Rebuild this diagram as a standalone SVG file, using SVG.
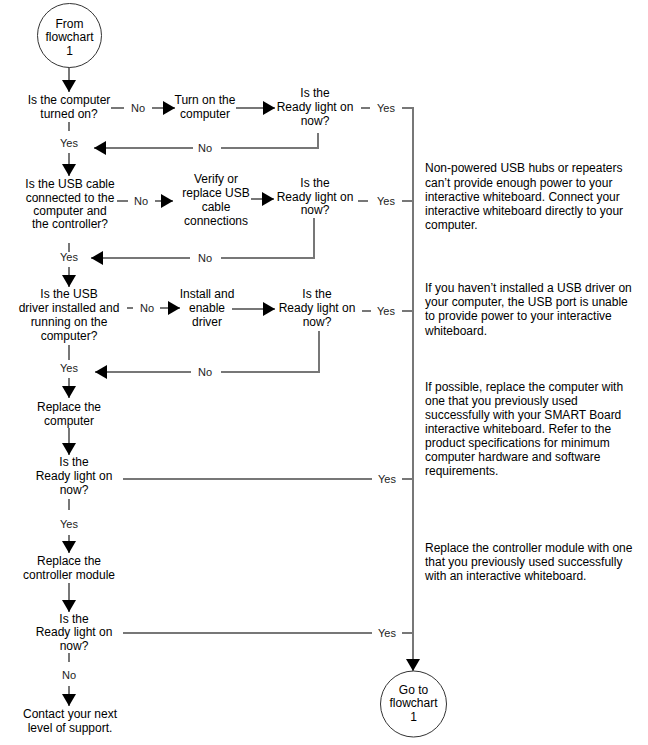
<svg xmlns="http://www.w3.org/2000/svg" width="648" height="745" viewBox="0 0 648 745">
<style>
text{font-family:"Liberation Sans",Arial,sans-serif;font-size:12px;fill:#000}
.c{text-anchor:middle}
.lbl text{font-size:11px;fill:#222;text-anchor:middle}
.lbl rect{fill:#fff}
.ln{stroke:#777;stroke-width:2;fill:none}
.term{fill:#fff;stroke:#333;stroke-width:1}
</style>
<defs>
<marker id="ah" markerUnits="userSpaceOnUse" markerWidth="12" markerHeight="14" refX="12" refY="7" orient="auto">
<path d="M0,0 L12,7 L0,14 z" fill="#000"/>
</marker>
</defs>
<rect width="648" height="745" fill="#fff"/>
<g id="connectors">
<line class="ln" x1="69" y1="67" x2="69" y2="92" marker-end="url(#ah)"/>
<line class="ln" x1="111" y1="108" x2="175" y2="108" marker-end="url(#ah)"/>
<line class="ln" x1="236" y1="108" x2="275" y2="108" marker-end="url(#ah)"/>
<polyline class="ln" points="361,108 413,108 413,671" marker-end="url(#ah)"/>
<polyline class="ln" points="318,133 318,148 94,148" marker-end="url(#ah)"/>
<line class="ln" x1="69" y1="122" x2="69" y2="176" marker-end="url(#ah)"/>
<line class="ln" x1="117" y1="201" x2="173" y2="201" marker-end="url(#ah)"/>
<line class="ln" x1="251" y1="199" x2="274" y2="199" marker-end="url(#ah)"/>
<line class="ln" x1="358" y1="201" x2="413" y2="201"/>
<polyline class="ln" points="314,218 314,258 91,258" marker-end="url(#ah)"/>
<line class="ln" x1="69" y1="243" x2="69" y2="287" marker-end="url(#ah)"/>
<line class="ln" x1="127" y1="308" x2="180" y2="308" marker-end="url(#ah)"/>
<line class="ln" x1="232" y1="309" x2="275" y2="309" marker-end="url(#ah)"/>
<line class="ln" x1="362" y1="311" x2="413" y2="311"/>
<polyline class="ln" points="319,331 319,372 95,372" marker-end="url(#ah)"/>
<line class="ln" x1="69" y1="345" x2="69" y2="398" marker-end="url(#ah)"/>
<line class="ln" x1="69" y1="428" x2="69" y2="455" marker-end="url(#ah)"/>
<line class="ln" x1="123" y1="479" x2="413" y2="479"/>
<line class="ln" x1="69" y1="499" x2="69" y2="553" marker-end="url(#ah)"/>
<line class="ln" x1="69" y1="583" x2="69" y2="612" marker-end="url(#ah)"/>
<line class="ln" x1="123" y1="633" x2="413" y2="633"/>
<line class="ln" x1="69" y1="653" x2="69" y2="706" marker-end="url(#ah)"/>
<g class="lbl"><rect x="124" y="100" width="28" height="16"/><text x="138" y="112">No</text></g>
<g class="lbl"><rect x="370" y="100" width="32" height="16"/><text x="386" y="112">Yes</text></g>
<g class="lbl"><rect x="193" y="140" width="28" height="16"/><text x="205" y="152">No</text></g>
<g class="lbl"><rect x="57" y="131" width="24" height="22"/><text x="69" y="147">Yes</text></g>
<g class="lbl"><rect x="128" y="193" width="27" height="16"/><text x="141" y="205">No</text></g>
<g class="lbl"><rect x="368" y="193" width="34" height="16"/><text x="386" y="205">Yes</text></g>
<g class="lbl"><rect x="190" y="250" width="31" height="16"/><text x="205" y="262">No</text></g>
<g class="lbl"><rect x="57" y="252" width="24" height="15"/><text x="69" y="261">Yes</text></g>
<g class="lbl"><rect x="133" y="300" width="27" height="16"/><text x="147" y="312">No</text></g>
<g class="lbl"><rect x="371" y="303" width="31" height="16"/><text x="386" y="315">Yes</text></g>
<g class="lbl"><rect x="191" y="364" width="30" height="16"/><text x="205" y="376">No</text></g>
<g class="lbl"><rect x="57" y="360" width="24" height="18"/><text x="69" y="372">Yes</text></g>
<g class="lbl"><rect x="372" y="471" width="30" height="16"/><text x="387" y="483">Yes</text></g>
<g class="lbl"><rect x="57" y="510" width="24" height="25"/><text x="69" y="528">Yes</text></g>
<g class="lbl"><rect x="372" y="625" width="30" height="16"/><text x="387" y="637">Yes</text></g>
<g class="lbl"><rect x="57" y="662" width="24" height="24"/><text x="69" y="679">No</text></g>
</g>
<g id="start"><circle class="term" cx="69.5" cy="35.5" r="32"/><text class="c" x="69.5" y="28">From</text><text class="c" x="69.5" y="41">flowchart</text><text class="c" x="69.5" y="55">1</text></g>
<g id="d1"><text class="c" x="69" y="104">Is the computer</text><text class="c" x="69" y="118">turned on?</text></g>
<g id="turnon"><text class="c" x="205" y="104">Turn on the</text><text class="c" x="205" y="118">computer</text></g>
<g id="r1"><text class="c" x="315" y="97">Is the</text><text class="c" x="315" y="111">Ready light on</text><text class="c" x="315" y="125">now?</text></g>
<g id="d2"><text class="c" x="70" y="188">Is the USB cable</text><text class="c" x="70" y="202">connected to the</text><text class="c" x="70" y="215">computer and</text><text class="c" x="70" y="228">the controller?</text></g>
<g id="verify"><text class="c" x="216" y="183">Verify or</text><text class="c" x="216" y="197">replace USB</text><text class="c" x="216" y="211">cable</text><text class="c" x="216" y="225">connections</text></g>
<g id="r2"><text class="c" x="315" y="187">Is the</text><text class="c" x="315" y="201">Ready light on</text><text class="c" x="315" y="214">now?</text></g>
<g id="d3"><text class="c" x="69" y="298">Is the USB</text><text class="c" x="69" y="312">driver installed and</text><text class="c" x="69" y="326">running on the</text><text class="c" x="69" y="340">computer?</text></g>
<g id="install"><text class="c" x="207" y="298">Install and</text><text class="c" x="207" y="312">enable</text><text class="c" x="207" y="326">driver</text></g>
<g id="r3"><text class="c" x="317" y="298">Is the</text><text class="c" x="317" y="312">Ready light on</text><text class="c" x="317" y="326">now?</text></g>
<g id="replcomp"><text class="c" x="69" y="411">Replace the</text><text class="c" x="69" y="425">computer</text></g>
<g id="r4"><text class="c" x="74" y="466">Is the</text><text class="c" x="74" y="480">Ready light on</text><text class="c" x="74" y="494">now?</text></g>
<g id="replctrl"><text class="c" x="69" y="565">Replace the</text><text class="c" x="69" y="579">controller module</text></g>
<g id="r5"><text class="c" x="74" y="623">Is the</text><text class="c" x="74" y="636">Ready light on</text><text class="c" x="74" y="650">now?</text></g>
<g id="contact"><text class="c" x="70" y="718">Contact your next</text><text class="c" x="70" y="732">level of support.</text></g>
<g id="goto"><circle class="term" cx="413.5" cy="704" r="33"/><text class="c" x="413.5" y="694">Go to</text><text class="c" x="413.5" y="707">flowchart</text><text class="c" x="413.5" y="721">1</text></g>
<g id="noteA"><text x="425" y="172">Non-powered USB hubs or repeaters</text><text x="425" y="187">can’t provide enough power to your</text><text x="425" y="201">interactive whiteboard. Connect your</text><text x="425" y="215">interactive whiteboard directly to your</text><text x="425" y="229">computer.</text></g>
<g id="noteB"><text x="425" y="292">If you haven’t installed a USB driver on</text><text x="425" y="306">your computer, the USB port is unable</text><text x="425" y="320">to provide power to your interactive</text><text x="425" y="335">whiteboard.</text></g>
<g id="noteC"><text x="425" y="391">If possible, replace the computer with</text><text x="425" y="405">one that you previously used</text><text x="425" y="419">successfully with your SMART Board</text><text x="425" y="433">interactive whiteboard. Refer to the</text><text x="425" y="447">product specifications for minimum</text><text x="425" y="461">computer hardware and software</text><text x="425" y="475">requirements.</text></g>
<g id="noteD"><text x="425" y="552">Replace the controller module with one</text><text x="425" y="566">that you previously used successfully</text><text x="425" y="580">with an interactive whiteboard.</text></g>
</svg>
